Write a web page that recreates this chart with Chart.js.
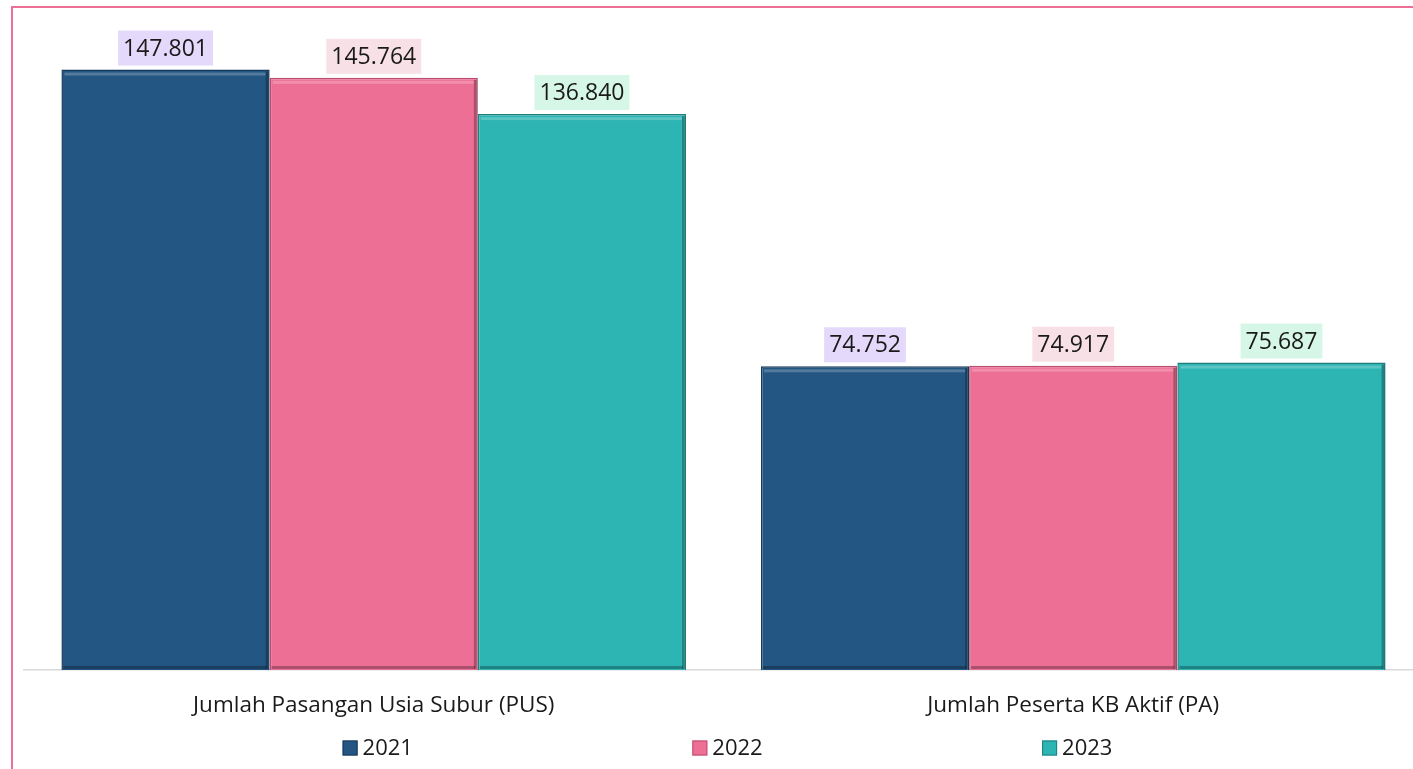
<!DOCTYPE html>
<html lang="id">
<head>
<meta charset="UTF-8">
<title>PUS dan PA</title>
<script src="https://cdn.jsdelivr.net/npm/chart.js"></script>
<style>
    html, body {
        margin: 0;
        padding: 0;
        width: 1413px;
        height: 769px;
        overflow: hidden;
        background: #ffffff;
        font-family: "Open Sans", sans-serif;
    }
    #bingkai {
        position: absolute;
        left: 11px;
        top: 6px;
        width: 1500px;
        height: 900px;
        border: 2px solid #ee6f96;
        box-sizing: border-box;
    }
    #wadah {
        position: absolute;
        left: 0;
        top: 0;
        width: 1440px;
        height: 769px;
    }
</style>
</head>
<body>
<div id="bingkai"></div>
<div id="wadah"><canvas id="grafik"></canvas></div>

<script>
    // data dari grafik
    const kategori = ['Jumlah Pasangan Usia Subur (PUS)', 'Jumlah Peserta KB Aktif (PA)'];
    const tahun = ['2021', '2022', '2023'];
    const nilai2021 = [147801, 74752];
    const nilai2022 = [145764, 74917];
    const nilai2023 = [136840, 75687];

    const warnaBatang = ['#245683', '#ee6f96', '#2db5b4'];
    const warnaTepi = ['#163a5c', '#b94f70', '#1d7f7e'];
    const warnaLabel = ['#e5d9fb', '#f8e0e7', '#d6f6e8'];

    // format angka pakai titik ribuan
    function formatAngka(n) {
        return String(n).replace(/\B(?=(\d{3})+(?!\d))/g, '.');
    }

    // efek timbul sederhana + label nilai di atas batang
    const labelNilai = {
        id: 'labelNilai',
        afterDatasetsDraw(chart) {
            const ctx = chart.ctx;
            ctx.save();
            chart.data.datasets.forEach((ds, i) => {
                chart.getDatasetMeta(i).data.forEach((bar) => {
                    const p = bar.getProps(['x', 'y', 'base', 'width'], true);
                    const kiri = p.x - p.width / 2;
                    const kanan = p.x + p.width / 2;
                    // sorotan terang dekat tepi atas
                    ctx.fillStyle = 'rgba(255,255,255,0.22)';
                    ctx.fillRect(kiri + 3, p.y + 3, p.width - 7, 3);
                    // bayangan gelap di sisi kanan dan bawah
                    ctx.fillStyle = 'rgba(0,0,0,0.28)';
                    ctx.fillRect(kanan - 4, p.y + 2, 3, p.base - p.y - 3);
                    ctx.fillRect(kiri + 2, p.base - 4, p.width - 5, 3);
                });
            });

            ctx.font = '23px "Open Sans"';
            ctx.textAlign = 'center';
            ctx.textBaseline = 'middle';
            chart.data.datasets.forEach((ds, i) => {
                chart.getDatasetMeta(i).data.forEach((bar, j) => {
                    const teks = formatAngka(ds.data[j]);
                    const w = ctx.measureText(teks).width + 10;
                    const h = 35;
                    const bawah = bar.y - 4;
                    ctx.fillStyle = warnaLabel[i];
                    ctx.fillRect(bar.x - w / 2, bawah - h, w, h);
                    ctx.fillStyle = '#1a1a1a';
                    ctx.fillText(teks, bar.x, bawah - h / 2 + 1);
                });
            });
            ctx.restore();
        }
    };

    // plugin legenda sendiri, item disebar lebar seperti aslinya
    const legendaLebar = {
        id: 'legendaLebar',
        afterDraw(chart) {
            const ctx = chart.ctx;
            const area = chart.chartArea;
            const lebar = area.right - area.left;
            const y = area.bottom + 78;
            ctx.save();
            ctx.font = '22px "Open Sans"';
            ctx.textBaseline = 'middle';
            ctx.textAlign = 'left';
            tahun.forEach((t, i) => {
                const tengah = area.left + lebar * (0.25 + 0.25 * i) + 4;
                const wTeks = ctx.measureText(t).width;
                const total = 15 + 5 + wTeks;
                const x0 = tengah - total / 2;
                ctx.fillStyle = warnaBatang[i];
                ctx.fillRect(x0, y - 7.5, 15, 15);
                ctx.strokeStyle = warnaTepi[i];
                ctx.lineWidth = 1;
                ctx.strokeRect(x0 + 0.5, y - 7, 14, 14);
                ctx.fillStyle = '#1a1a1a';
                ctx.fillText(t, x0 + 20, y + 1);
            });
            ctx.restore();
        }
    };

    const ctx = document.getElementById('grafik').getContext('2d');
    const grafik = new Chart(ctx, {
        type: 'bar',
        data: {
            labels: kategori,
            datasets: [
                { label: tahun[0], data: nilai2021 },
                { label: tahun[1], data: nilai2022 },
                { label: tahun[2], data: nilai2023 }
            ].map((ds, i) => Object.assign(ds, {
                backgroundColor: warnaBatang[i],
                borderColor: warnaTepi[i],
                borderWidth: 1.5,
                categoryPercentage: 0.893,
                barPercentage: 1.0
            }))
        },
        options: {
            responsive: true,
            maintainAspectRatio: false,
            animation: false,
            layout: {
                padding: { left: 24, right: 17, top: 20, bottom: 28 }
            },
            plugins: {
                legend: { display: false },
                tooltip: { enabled: false }
            },
            scales: {
                y: {
                    display: false,
                    min: 0,
                    max: 160000
                },
                x: {
                    grid: { display: false, drawTicks: false },
                    border: { display: true, color: '#d9d9d9', width: 1.5 },
                    ticks: {
                        color: '#1a1a1a',
                        padding: 22,
                        font: { family: '"Open Sans"', size: 22.5 }
                    }
                }
            }
        },
        plugins: [labelNilai, legendaLebar]
    });
</script>
</body>
</html>
